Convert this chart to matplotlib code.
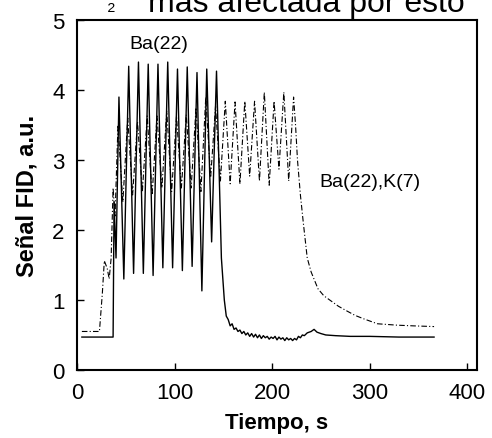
import matplotlib.pyplot as plt

plt.rcParams['font.family'] = ['Liberation Sans', 'DejaVu Sans']

# Ba(22): linea oscura
t_ba = [5, 37, 38, 40, 43, 48, 53, 58, 63, 68, 73, 78, 83, 88, 93, 98, 103, 108,
        113, 118, 123, 128, 133, 138, 143, 148, 151, 153, 155, 157, 159, 161, 163,
        165, 167, 169, 171, 173, 175, 177, 179, 181, 183, 185, 187, 189, 191, 193,
        195, 197, 199, 201, 203, 205, 207, 209, 211, 213, 215, 217, 219, 221, 223,
        225, 227, 229, 231, 233, 236, 240, 243, 246, 250, 255, 265, 280, 300, 330, 366]
y_ba = [0.47, 0.47, 2.4, 1.6, 3.9, 1.3, 4.34, 1.38, 4.4, 1.38, 4.37, 1.35, 4.37,
        1.46, 4.4, 1.46, 4.3, 1.42, 4.33, 1.48, 4.25, 1.13, 4.3, 1.83, 4.27, 1.6,
        1.0, 0.77, 0.72, 0.63, 0.66, 0.58, 0.60, 0.55, 0.57, 0.52, 0.55, 0.50, 0.53,
        0.48, 0.52, 0.47, 0.51, 0.46, 0.50, 0.45, 0.49, 0.46, 0.48, 0.44, 0.47, 0.45,
        0.48, 0.43, 0.47, 0.44, 0.46, 0.42, 0.46, 0.43, 0.45, 0.42, 0.45, 0.43, 0.48,
        0.46, 0.50, 0.49, 0.53, 0.55, 0.58, 0.54, 0.52, 0.50, 0.49, 0.48, 0.48, 0.47, 0.47]

# Ba(22),K(7): linea punteada
t_bak = [5, 23, 26, 28, 31, 33, 35, 37, 39, 42, 47, 52, 57, 62, 67, 72, 77, 82, 87,
         92, 97, 102, 107, 112, 117, 122, 127, 132, 137, 142, 147, 152, 157, 162,
         167, 172, 177, 182, 187, 192, 197, 202, 207, 212, 217, 222, 224, 226, 229,
         232, 236, 240, 247, 253, 260, 268, 277, 285, 294, 308, 328, 345, 366]
y_bak = [0.55, 0.55, 1.1, 1.56, 1.45, 1.3, 1.6, 2.6, 2.2, 3.5, 2.4, 3.6, 2.5, 3.55,
         2.55, 3.63, 2.5, 3.63, 2.6, 3.7, 2.55, 3.63, 2.6, 3.65, 2.6, 3.75, 2.55,
         3.9, 2.75, 3.77, 2.7, 3.84, 2.66, 3.83, 2.66, 3.84, 2.77, 3.84, 2.7, 3.97,
         2.64, 3.84, 2.87, 3.97, 2.7, 3.9, 3.5, 3.0, 2.5, 2.1, 1.6, 1.4, 1.16, 1.06,
         0.99, 0.91, 0.84, 0.78, 0.73, 0.66, 0.64, 0.63, 0.62]

fig = plt.figure(figsize=(4.92, 4.39), dpi=100)
ax = fig.add_axes([0.1565, 0.155, 0.813, 0.797])

ax.plot(t_ba, y_ba, color='black', lw=1.0)
ax.plot(t_bak, y_bak, color='black', lw=0.8, linestyle=(0, (5, 2, 1, 2)))

ax.text(84, 4.66, 'Ba(22)', fontsize=14, ha='center', va='center')
ax.text(300, 2.69, 'Ba(22),K(7)', fontsize=14, ha='center', va='center')

ax.set_xlim(0, 410)
ax.set_ylim(0, 5)
ax.set_xticks([0, 100, 200, 300, 400])
ax.set_yticks([0, 1, 2, 3, 4, 5])
ax.tick_params(direction='in', labelsize=16, length=5, width=1, pad=9)
for s in ax.spines.values():
    s.set_linewidth(1.5)

ax.set_xlabel('Tiempo, s', fontsize=16, fontweight='bold', labelpad=6)
ax.set_ylabel('Señal FID, a.u.', fontsize=17, fontweight='bold', labelpad=10)

# texto recortado del documento arriba
fig.text(0.218, 0.977, '₂', fontsize=16, va='baseline')
fig.text(0.30, 0.972, 'más afectada por esto', fontsize=23, va='baseline')

fig.savefig('out.png', dpi=100)
